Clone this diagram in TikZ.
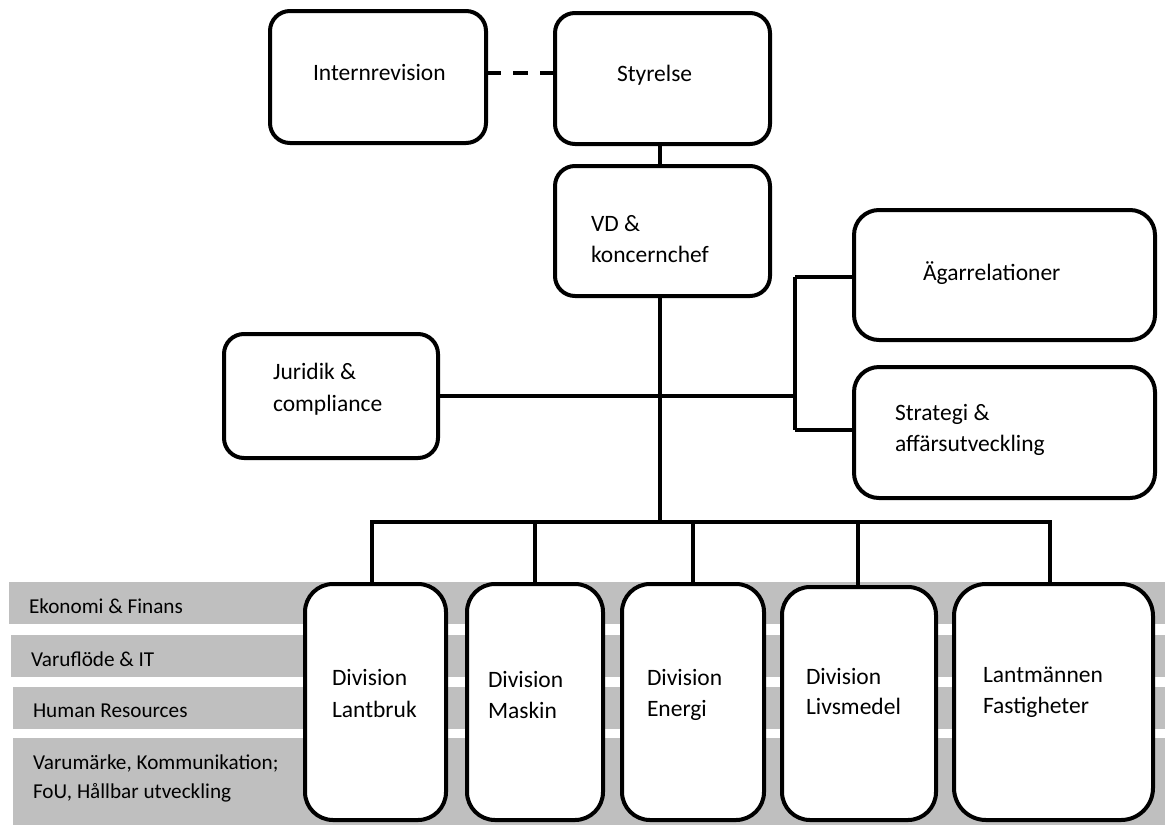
\documentclass[tikz,border=0pt]{standalone}
\usepackage{fontspec}
\setmainfont{Carlito}
\definecolor{bandgrey}{HTML}{BFBFBF}
\begin{document}
\begin{tikzpicture}[x=1pt,y=-1pt,
  box/.style={draw, line width=4pt, fill=white, rounded corners=#1,
              inner sep=0pt, outer sep=0pt},
  box/.default=20pt,
  link/.style={line width=3.5pt},
  lbl/.style={anchor=base west, inner sep=0pt, outer sep=0pt,
              font=\fontsize{23.5pt}{28pt}\selectfont},
  bandlbl/.style={anchor=base west, inner sep=0pt, outer sep=0pt,
              font=\fontsize{21.2pt}{26pt}\selectfont},
  band/.style={fill=bandgrey}]
\useasboundingbox (0,0) rectangle (1169,825);

% shared functions, drawn as grey bands behind the divisions
\fill[band] (9,582) rectangle (1165,624);
\fill[band] (11,635) rectangle (1165,677);
\fill[band] (13,687) rectangle (1165,729);
\fill[band] (13,738) rectangle (1165,825);
\node[bandlbl] (f1) at (29,613) {Ekonomi \& Finans};
\node[bandlbl] (f2) at (31,666) {Varuflöde \& IT};
\node[bandlbl] (f3) at (33,717) {Human Resources};
\node[bandlbl] (f4a) at (33,769) {Varumärke, Kommunikation;};
\node[bandlbl] (f4b) at (33,798) {FoU, Hållbar utveckling};

% top management
\node[box, minimum width=216pt, minimum height=132pt] (intern) at (378,77) {};
\node[box, minimum width=215pt, minimum height=131pt] (styr) at (662.5,78.5) {};
\node[box, minimum width=215pt, minimum height=130pt] (vd) at (662.5,231) {};
\node[box=25pt, minimum width=301pt, minimum height=130pt] (agar) at (1004.5,275) {};
\node[box=25pt, minimum width=301pt, minimum height=131pt] (strat) at (1004.5,432.5) {};
\node[box, minimum width=214pt, minimum height=124pt] (jur) at (331,396) {};

% divisions
\node[box=28pt, minimum width=141pt, minimum height=236pt] (lant) at (375.5,702) {};
\node[box=28pt, minimum width=136pt, minimum height=236pt] (mask) at (535,702) {};
\node[box=28pt, minimum width=142pt, minimum height=236pt] (ener) at (693,702) {};
\node[box=28pt, minimum width=154pt, minimum height=233pt] (livs) at (859,703.5) {};
\node[box=32pt, minimum width=199pt, minimum height=236pt] (fast) at (1053.5,702) {};

% texts
\node[lbl] (t-intern) at (313,80) {Internrevision};
\node[lbl] (t-styr) at (617,81) {Styrelse};
\node[lbl] (t-vd1) at (591,231) {VD \&};
\node[lbl] (t-vd2) at (591,262) {koncernchef};
\node[lbl] (t-agar) at (923,280) {Ägarrelationer};
\node[lbl] (t-strat1) at (895,420) {Strategi \&};
\node[lbl] (t-strat2) at (895,451) {affärsutveckling};
\node[lbl] (t-jur1) at (273,379) {Juridik \&};
\node[lbl] (t-jur2) at (273,411) {compliance};
\node[lbl] (t-lant1) at (332,685) {Division};
\node[lbl] (t-lant2) at (332,717) {Lantbruk};
\node[lbl] (t-mask1) at (488,687) {Division};
\node[lbl] (t-mask2) at (488,718) {Maskin};
\node[lbl] (t-ener1) at (647,685) {Division};
\node[lbl] (t-ener2) at (647,716) {Energi};
\node[lbl] (t-livs1) at (806,684) {Division};
\node[lbl] (t-livs2) at (806,714) {Livsmedel};
\node[lbl] (t-fast1) at (983,682) {Lantmännen};
\node[lbl] (t-fast2) at (983,713) {Fastigheter};

% junction points
\coordinate (dashy) at (520,73);
\coordinate (spine) at (660,0);
\coordinate (hub) at (660,522);
\coordinate (brk) at (795,396);
\coordinate (brkT) at (795,277);
\coordinate (brkB) at (795,430);
\coordinate (b1) at (372,522);
\coordinate (b2) at (535,522);
\coordinate (b3) at (693,522);
\coordinate (b4) at (858,522);
\coordinate (b5) at (1050,522);

% connectors
\draw[line width=4.5pt, dash pattern=on 15pt off 12pt]
  (intern.east |- dashy) -- (styr.west |- dashy);
\draw[link] (spine |- styr.south) -- (spine |- vd.north);
\draw[link] (spine |- vd.south) -- (hub);
\draw[link] (jur.east) -- (brk);
\draw[link] (brkT) -- (brkB);
\draw[link] (brkT) -- (agar.west |- brkT);
\draw[link] (brkB) -- (strat.west |- brkB);
\draw[link, line cap=rect] (b1) -- (b5);
\draw[link] (b1) -- (b1 |- lant.north);
\draw[link] (b2) -- (b2 |- mask.north);
\draw[link] (b3) -- (b3 |- ener.north);
\draw[link] (b4) -- (b4 |- livs.north);
\draw[link] (b5) -- (b5 |- fast.north);
\end{tikzpicture}
\end{document}
